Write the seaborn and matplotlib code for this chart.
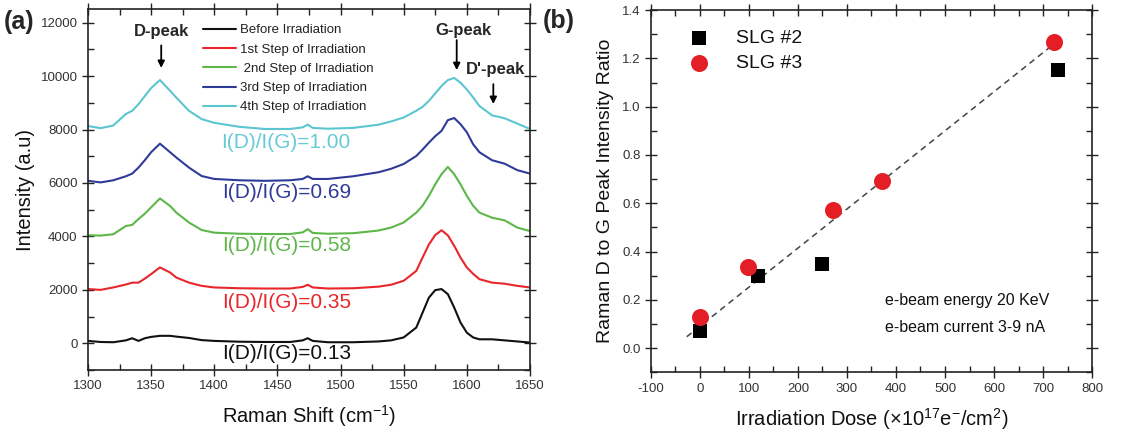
import matplotlib
matplotlib.use("Agg")
import matplotlib.pyplot as plt
from matplotlib.ticker import MultipleLocator, FormatStrFormatter
import seaborn as sns

# ---------------- data ----------------
shift = [1300, 1310, 1320, 1330, 1335, 1340, 1345, 1350, 1357, 1365, 1370, 1380, 1390,
         1400, 1420, 1440, 1460, 1470, 1474, 1478, 1490, 1510, 1530, 1540, 1550, 1560,
         1565, 1570, 1575, 1580, 1585, 1590, 1595, 1600, 1605, 1610, 1620, 1630, 1640, 1650]

before = [90, 50, 40, 110, 190, 90, 190, 240, 280, 280, 250, 200, 120,
          90, 60, 50, 50, 110, 190, 90, 40, 40, 70, 110, 220, 590,
          1150, 1710, 1990, 2030, 1840, 1340, 780, 400, 220, 150, 150, 110, 70, 30]
step1 = [2030, 2000, 2090, 2200, 2270, 2270, 2420, 2590, 2840, 2650, 2460, 2270, 2150,
         2090, 2060, 2050, 2050, 2110, 2190, 2090, 2050, 2060, 2120, 2190, 2340, 2710,
         3210, 3700, 4050, 4230, 4040, 3650, 3210, 2840, 2600, 2400, 2270, 2230, 2150, 2090]
step2 = [4045, 4030, 4080, 4390, 4430, 4650, 4850, 5090, 5420, 5140, 4890, 4520, 4240,
         4140, 4100, 4090, 4090, 4150, 4270, 4130, 4100, 4120, 4220, 4330, 4520, 4890,
         5150, 5520, 5950, 6330, 6600, 6330, 5950, 5520, 5150, 4890, 4700, 4600, 4330, 4200]
step3 = [6080, 6020, 6100, 6250, 6350, 6575, 6850, 7150, 7470, 7150, 6950, 6575, 6260,
         6150, 6100, 6080, 6100, 6150, 6250, 6150, 6150, 6250, 6400, 6530, 6710, 7010,
         7250, 7510, 7750, 7950, 8350, 8430, 8200, 7900, 7450, 7150, 6850, 6720, 6480, 6350]
step4 = [8130, 8050, 8150, 8580, 8700, 8950, 9250, 9550, 9850, 9450, 9190, 8700, 8390,
         8250, 8100, 8020, 8020, 8080, 8180, 8060, 8030, 8060, 8180, 8300, 8450, 8700,
         8850, 9070, 9350, 9630, 9850, 9930, 9750, 9500, 9200, 8880, 8530, 8420, 8220, 8020]

series_labels = ["Before Irradiation", "1st Step of Irradiation", " 2nd Step of Irradiation",
                 "3rd Step of Irradiation", "4th Step of Irradiation"]
series_colors = ["#111111", "#e8262b", "#5db749", "#2f3b98", "#5cc6d0"]
ratio_text = ["I(D)/I(G)=0.13", "I(D)/I(G)=0.35", "I(D)/I(G)=0.58",
              "I(D)/I(G)=0.69", "I(D)/I(G)=1.00"]
ratio_y = [-380, 1530, 3650, 5640, 7500]
ratio_colors = ["#111111", "#e8262b", "#5db749", "#2f3b98", "#66cbd5"]

dose_slg2 = [0, 119, 250, 731]
ratio_slg2 = [0.07, 0.30, 0.35, 1.15]
dose_slg3 = [0, 98, 271, 371, 722]
ratio_slg3 = [0.13, 0.334, 0.573, 0.691, 1.27]
fit_x = [-27, 715]
fit_y = [0.047, 1.248]

# ---------------- style ----------------
sns.set_theme(style="ticks")
plt.rcParams["font.family"] = ["Liberation Sans", "DejaVu Sans"]
plt.rcParams["mathtext.fontset"] = "custom"
plt.rcParams["mathtext.rm"] = "Liberation Sans"
plt.rcParams["mathtext.it"] = "Liberation Sans:italic"
plt.rcParams["axes.unicode_minus"] = False
tick_color = "#333333"

fig = plt.figure(figsize=(11.28, 4.40), dpi=100)
axA = fig.add_axes([0.078, 0.159, 0.3918, 0.820])
axB = fig.add_axes([0.5771, 0.154, 0.391, 0.823])


def style_axes(ax):
    for s in ax.spines.values():
        s.set_visible(True)
        s.set_color("#222222")
        s.set_linewidth(1.2)
    ax.tick_params(which="both", top=True, right=True, colors="#222222",
                   labelcolor=tick_color, labelsize=9.5, width=1.0)
    ax.tick_params(which="major", direction="inout", length=8)
    ax.tick_params(which="minor", direction="in", length=4)


# ---------------- panel (a) ----------------
for ys, lab, col in zip([before, step1, step2, step3, step4], series_labels, series_colors):
    sns.lineplot(x=shift, y=ys, ax=axA, color=col, label=lab, linewidth=1.5)

axA.set_xlim(1300, 1650)
axA.set_ylim(-1000, 12500)
axA.xaxis.set_major_locator(MultipleLocator(50))
axA.xaxis.set_minor_locator(MultipleLocator(25))
axA.yaxis.set_major_locator(MultipleLocator(2000))
axA.yaxis.set_minor_locator(MultipleLocator(1000))
style_axes(axA)
axA.set_xlabel("Raman Shift (cm$^{-1}$)", fontsize=14.5, color="#111111", labelpad=8)
axA.set_ylabel("Intensity (a.u)", fontsize=14.5, color="#111111", labelpad=4)

leg = axA.legend(loc="upper left", bbox_to_anchor=(0.18, 0.945), bbox_transform=fig.transFigure,
                 frameon=False, fontsize=9.5, handlelength=2.5, handletextpad=0.3,
                 labelspacing=0.53, borderpad=0, borderaxespad=0)
for t in leg.get_texts():
    t.set_color("#222222")

for txt, yv, col in zip(ratio_text, ratio_y, ratio_colors):
    axA.text(1457, yv, txt, color=col, fontsize=15, ha="center", va="center")

arrow = dict(arrowstyle="-|>", color="black", lw=1.3, mutation_scale=10)
axA.annotate("", xy=(1358, 10200), xytext=(1358, 11250), arrowprops=arrow)
axA.annotate("", xy=(1592, 10120), xytext=(1592, 11450), arrowprops=arrow)
axA.annotate("", xy=(1621, 8850), xytext=(1621, 9800), arrowprops=arrow)
axA.text(1358, 11650, "D-peak", fontsize=12, fontweight="bold", ha="center", va="center")
axA.text(1597, 11690, "G-peak", fontsize=12, fontweight="bold", ha="center", va="center")
axA.text(1623, 10250, "D'-peak", fontsize=12, fontweight="bold", ha="center", va="center")

# ---------------- panel (b) ----------------
sns.lineplot(x=fit_x, y=fit_y, ax=axB, color="#444444", linewidth=1.1,
             linestyle=(0, (4, 3)), legend=False)
sns.scatterplot(x=dose_slg2, y=ratio_slg2, ax=axB, marker="s", color="black",
                s=95, linewidth=0, label="SLG #2", zorder=3)
sns.scatterplot(x=dose_slg3, y=ratio_slg3, ax=axB, marker="o", color="#e41e26",
                s=150, linewidth=0, label="SLG #3", zorder=3)

axB.set_xlim(-100, 800)
axB.set_ylim(-0.1, 1.4)
axB.xaxis.set_major_locator(MultipleLocator(100))
axB.xaxis.set_minor_locator(MultipleLocator(50))
axB.yaxis.set_major_locator(MultipleLocator(0.2))
axB.yaxis.set_minor_locator(MultipleLocator(0.1))
axB.yaxis.set_major_formatter(FormatStrFormatter("%.1f"))
style_axes(axB)
axB.set_xlabel("Irradiation Dose (\u00d710$^{17}$e$^{-}$/cm$^{2}$)", fontsize=14.5,
               color="#111111", labelpad=8)
axB.set_ylabel("Raman D to G Peak Intensity Ratio", fontsize=14, color="#111111", labelpad=6)

legB = axB.legend(loc="upper left", bbox_to_anchor=(0.035, 0.985), frameon=False,
                  fontsize=14, handletextpad=0.9, labelspacing=0.4, borderpad=0.2)
for t in legB.get_texts():
    t.set_color("#111111")

axB.text(378, 0.197, "e-beam energy 20 KeV", fontsize=11.5, ha="left", va="center", color="#111111")
axB.text(378, 0.085, "e-beam current 3-9 nA", fontsize=11.5, ha="left", va="center", color="#111111")

# panel labels
fig.text(0.003, 0.95, "(a)", fontsize=18, fontweight="bold", ha="left", va="center")
fig.text(0.481, 0.952, "(b)", fontsize=18, fontweight="bold", ha="left", va="center")

fig.savefig("out.png", dpi=100)
